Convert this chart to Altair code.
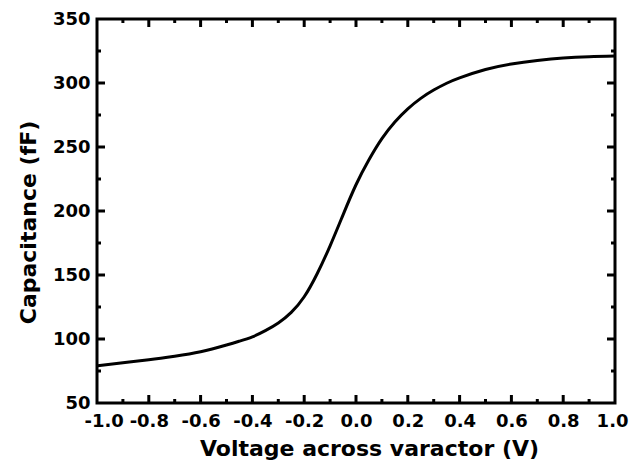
import altair as alt
import pandas as pd

voltage = [-1.0, -0.9, -0.8, -0.7, -0.6, -0.5, -0.45, -0.4, -0.35, -0.3, -0.25, -0.2,
           -0.15, -0.1, -0.05, 0.0, 0.05, 0.1, 0.15, 0.2, 0.25, 0.3, 0.35, 0.4,
           0.5, 0.6, 0.7, 0.8, 0.9, 1.0]
capacitance = [79, 81.5, 83.8, 86.5, 90, 95.3, 98.3, 101.7, 106.5, 112.5, 120.8, 133,
               151, 172.8, 197, 220.5, 240, 256.5, 269.5, 279.8, 288, 294.5, 299.8, 304,
               310.5, 314.8, 317.6, 319.6, 320.6, 321]

x_major = [-0.8, -0.6, -0.4, -0.2, 0.0, 0.2, 0.4, 0.6, 0.8]
x_minor = [-0.9, -0.7, -0.5, -0.3, -0.1, 0.1, 0.3, 0.5, 0.7, 0.9]
y_major = [100, 150, 200, 250, 300]
y_minor = [75, 125, 175, 225, 275, 325]
x_labels = [-1.0, -0.8, -0.6, -0.4, -0.2, 0.0, 0.2, 0.4, 0.6, 0.8, 1.0]
y_labels = [50, 100, 150, 200, 250, 300, 350]

W, H = 518, 384
MAJ, MIN = 8, 4
FONT = "DejaVu Sans"

df = pd.DataFrame({"v": voltage, "c": capacitance})

xs = alt.Scale(domain=[-1.0, 1.0], nice=False, zero=False)
ys = alt.Scale(domain=[50, 350], nice=False, zero=False)

x_axis = alt.Axis(values=x_labels, ticks=False, tickSize=0, domain=False,
                  labelExpr="replace(format(datum.value, '.1f'), '\u2212', '-')",
                  grid=False, labelFont=FONT, labelFontSize=18, labelFontWeight="bold",
                  labelColor="black", labelPadding=9, title="Voltage across varactor (V)",
                  titleFont=FONT, titleFontSize=22, titleFontWeight="bold",
                  titleColor="black", titlePadding=8, titleX=272,
                  labelFlush=True, labelFlushOffset=13)
y_axis = alt.Axis(values=y_labels, format="d", ticks=False, tickSize=0, domain=False,
                  grid=False, labelFont=FONT, labelFontSize=18, labelFontWeight="bold",
                  labelColor="black", labelPadding=7, title="Capacitance (fF)",
                  titleFont=FONT, titleFontSize=22, titleFontWeight="bold",
                  titleColor="black", titlePadding=12, titleY=203, labelFlush=False)

line = alt.Chart(df).mark_line(color="black", strokeWidth=3, interpolate="natural").encode(
    x=alt.X("v:Q", scale=xs, axis=x_axis),
    y=alt.Y("c:Q", scale=ys, axis=y_axis),
)

def xticks(vals, length):
    d = pd.DataFrame({"t": vals})
    bottom = alt.Chart(d).mark_rule(color="black", strokeWidth=3).encode(
        x=alt.X("t:Q", scale=xs), y=alt.value(H), y2=alt.value(H - length))
    top = alt.Chart(d).mark_rule(color="black", strokeWidth=3).encode(
        x=alt.X("t:Q", scale=xs), y=alt.value(0), y2=alt.value(length))
    return [bottom, top]

def yticks(vals, length):
    d = pd.DataFrame({"t": vals})
    left = alt.Chart(d).mark_rule(color="black", strokeWidth=3).encode(
        y=alt.Y("t:Q", scale=ys), x=alt.value(0), x2=alt.value(length))
    right = alt.Chart(d).mark_rule(color="black", strokeWidth=3).encode(
        y=alt.Y("t:Q", scale=ys), x=alt.value(W), x2=alt.value(W - length))
    return [left, right]

layers = [line] + xticks(x_major, MAJ) + xticks(x_minor, MIN) + yticks(y_major, MAJ) + yticks(y_minor, MIN)

chart = alt.layer(*layers).properties(
    width=W, height=H,
    autosize=alt.AutoSizeParams(type="none"),
    padding={"left": 89, "top": 11, "right": 14, "bottom": 59},
    background="white",
).configure_view(stroke="black", strokeWidth=3)

chart.save("out.html", embed_options={"renderer": "svg", "actions": False})
